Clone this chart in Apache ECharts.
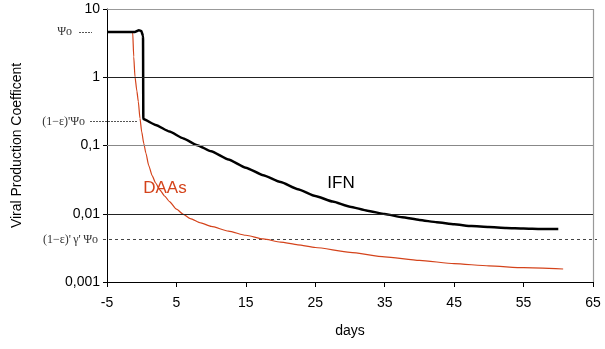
<!DOCTYPE html>
<html>
<head>
<meta charset="utf-8">
<script src="https://cdn.jsdelivr.net/npm/echarts@6/dist/echarts.min.js"></script>
<style>
  html, body { margin: 0; padding: 0; background: #fff; }
  #chart { width: 605px; height: 349px; }
</style>
</head>
<body>
<div id="chart"></div>
<script>
// IFN curve (black)
const ifnDays = [-5, -1.0, -0.4, -0.05, 0.19, 0.23, 2, 4, 6, 8, 10, 12.5, 15, 17.5, 20, 22.5, 25, 27.5, 30, 32.5, 35, 37.5, 40, 42.5, 45, 47.5, 50, 52.5, 55, 57.5, 60];
const ifnValues = [4.6, 4.6, 4.9, 4.75, 4.0, 0.244, 0.2, 0.16, 0.127, 0.101, 0.0822, 0.0624, 0.0473, 0.0367, 0.0292, 0.0229, 0.0182, 0.0151, 0.0127, 0.0111, 0.0099, 0.0089, 0.0081, 0.0075, 0.007, 0.0066, 0.0064, 0.0062, 0.0061, 0.006, 0.006];

// DAAs curve (red)
const daaDays = [-5, -1.3, -1.15, -0.97, -0.7, -0.49, -0.25, 0, 0.3, 0.6, 1, 1.5, 2, 2.6, 3.3, 4, 5, 6, 7, 8.5, 10, 12.5, 15, 17.5, 20, 22.5, 25, 30, 35, 40, 45, 50, 55, 60.7];
const daaValues = [4.6, 4.6, 2.0, 1.02, 0.63, 0.44, 0.25, 0.158, 0.107, 0.0776, 0.0513, 0.0363, 0.0282, 0.0224, 0.0182, 0.0151, 0.0117, 0.0098, 0.0085, 0.00733, 0.00653, 0.00556, 0.00484, 0.00427, 0.00385, 0.00351, 0.0032, 0.00272, 0.00234, 0.00207, 0.00186, 0.00172, 0.00162, 0.00155];

// reference levels
const psi0 = 4.6;
const psiEps = 0.225;
const psiEpsGamma = 0.0042;

const gridValues = [0.01, 0.1, 1, 10];
const gridColors = ['#222', '#888', '#222', '#999'];

const yTickLabel = (v) => String(v).replace('.', ',');

const serifFont = '12px "Liberation Serif"';

const hiddenPoint = { symbol: 'circle', symbolSize: 1, itemStyle: { color: 'rgba(0,0,0,0)' } };

const chart = echarts.init(document.getElementById('chart'));

chart.setOption({
  animation: false,
  grid: { left: 107, right: 12, top: 9, bottom: 67 },
  xAxis: {
    type: 'value',
    min: -5,
    max: 65,
    interval: 10,
    name: 'days',
    nameLocation: 'middle',
    nameGap: 42,
    nameTextStyle: { fontFamily: 'Liberation Sans', fontSize: 14, color: '#000' },
    axisLine: { onZero: false, lineStyle: { color: '#000', width: 1 } },
    axisTick: { lineStyle: { color: '#000' }, length: 5 },
    axisLabel: { fontFamily: 'Liberation Sans', fontSize: 14, color: '#000', margin: 14 },
    splitLine: { show: false },
  },
  yAxis: {
    type: 'log',
    logBase: 10,
    min: 0.001,
    max: 10,
    name: 'Viral Production Coefficent',
    nameLocation: 'middle',
    nameGap: 83,
    nameTextStyle: { fontFamily: 'Liberation Sans', fontSize: 14, color: '#000' },
    axisLine: { onZero: false, lineStyle: { color: '#000', width: 1 } },
    axisTick: { lineStyle: { color: '#000' }, length: 4 },
    axisLabel: { fontFamily: 'Liberation Sans', fontSize: 14, color: '#000', margin: 7, formatter: yTickLabel },
    splitLine: { show: false },
  },
  series: [
    {
      name: 'DAAs',
      type: 'line',
      data: daaDays.map((d, i) => [d, daaValues[i]]),
      symbol: 'none',
      smooth: 0.2,
      smoothMonotone: 'x',
      lineStyle: { color: '#d4431b', width: 1.2 },
      z: 3,
      markLine: {
        symbol: 'none',
        silent: true,
        animation: false,
        label: { show: false },
        data: gridValues.map((v, i) => ({
          yAxis: v,
          lineStyle: { color: gridColors[i], type: 'solid', width: 1.2 },
        })),
      },
      markPoint: {
        ...hiddenPoint,
        data: [{ coord: [3.35, 0.0238], value: 'DAAs' }],
        label: { show: true, formatter: 'DAAs', color: '#d4431b', fontFamily: 'Liberation Sans', fontSize: 17, position: 'inside' },
      },
    },
    {
      name: 'IFN',
      type: 'line',
      data: ifnDays.map((d, i) => [d, ifnValues[i]]),
      symbol: 'none',
      smooth: 0.15,
      smoothMonotone: 'x',
      lineStyle: { color: '#000', width: 2.5 },
      z: 4,
      markPoint: {
        ...hiddenPoint,
        data: [{ coord: [28.7, 0.0282], value: 'IFN' }],
        label: { show: true, formatter: 'IFN', color: '#000', fontFamily: 'Liberation Sans', fontSize: 17, position: 'inside' },
      },
    },
  ],
});

// reference levels: lines reach past the y axis into the label margin, so they are drawn as graphics
const yPx = (v) => chart.convertToPixel({ yAxisIndex: 0 }, v);
const xPx = (d) => chart.convertToPixel({ xAxisIndex: 0 }, d);
const axisX = xPx(-5);

function refLine(x1, x2, y, dash, color) {
  return {
    type: 'line',
    silent: true,
    z: 2,
    shape: { x1, y1: Math.round(y) + 0.5, x2, y2: Math.round(y) + 0.5 },
    style: { stroke: color, lineWidth: 1, lineDash: dash },
  };
}

function refText(xRight, y, text) {
  return {
    type: 'text',
    silent: true,
    z: 5,
    style: { text, x: xRight, y, font: serifFont, fill: '#333', align: 'right', verticalAlign: 'middle' },
  };
}

chart.setOption({
  graphic: [
    {
      type: 'line',
      silent: true,
      z: 1,
      shape: { x1: xPx(65) + 0.5, y1: yPx(10), x2: xPx(65) + 0.5, y2: yPx(0.001) },
      style: { stroke: '#999', lineWidth: 1.2 },
    },
    refLine(axisX - 28, axisX - 15, yPx(psi0), [2, 1], '#555'),
    refText(axisX - 35, yPx(psi0), 'Ψo'),
    refLine(axisX - 17, xPx(-0.65), yPx(psiEps), [2, 1], '#555'),
    refText(axisX - 22, yPx(psiEps), "(1−ε)'Ψo"),
    refLine(axisX - 4, xPx(65) + 4, yPx(psiEpsGamma), [3, 3], '#444'),
    refText(axisX - 9, yPx(psiEpsGamma), "(1−ε)'\u2009γ'\u2009Ψo"),
  ],
});
</script>
</body>
</html>
